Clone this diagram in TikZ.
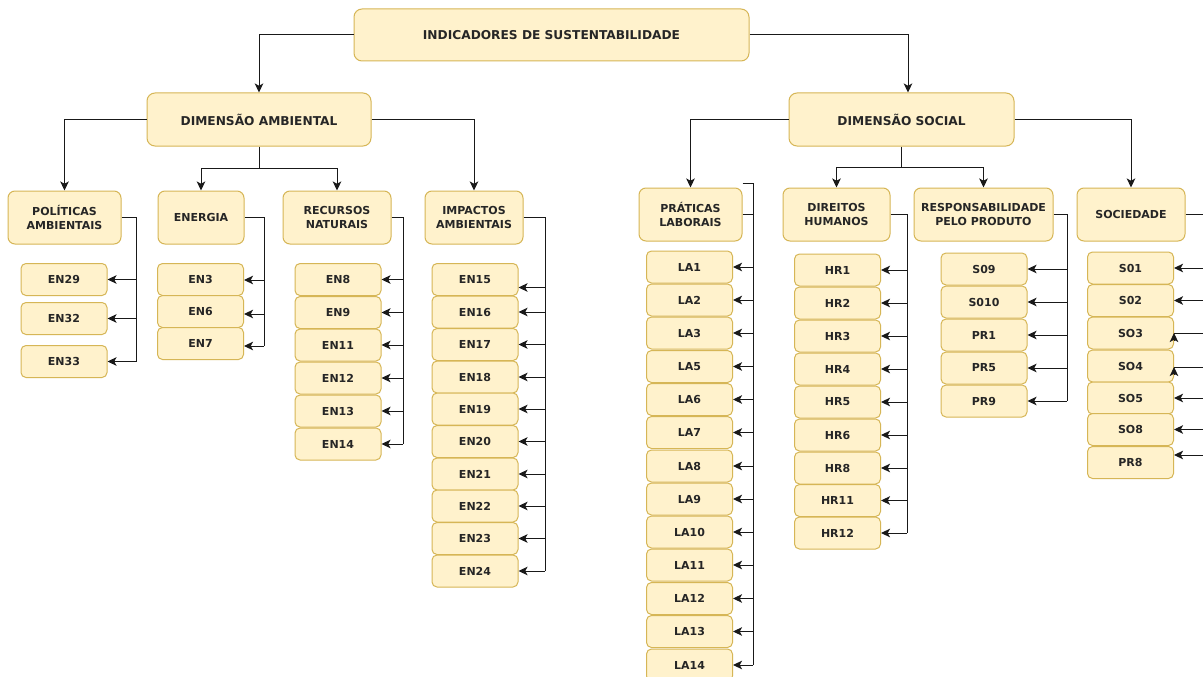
\documentclass[tikz,border=0pt]{standalone}
\usepackage{fontspec}
\setmainfont{DejaVu Sans}
\usetikzlibrary{arrows.meta,calc}
\definecolor{fillc}{HTML}{FFF2CC}
\definecolor{drawc}{HTML}{D6B656}
\definecolor{txtc}{HTML}{262626}
\begin{document}
\begin{tikzpicture}[x=1pt,y=-1pt,
  box/.style={draw=drawc, fill=fillc, line width=1pt, rounded corners=6pt,
    font=\bfseries\fontsize{11}{14}\selectfont, text=txtc, align=center, inner sep=0pt},
  big/.style={box, rounded corners=8pt, font=\bfseries\fontsize{12.2}{14}\selectfont},
  mid/.style={box, rounded corners=7pt, minimum height=53pt},
  leaf/.style={box, rounded corners=5pt, minimum width=86pt, minimum height=32pt},
  conn/.style={line width=1pt, black!90},
  arr/.style={conn, -{Stealth[length=9pt,width=8.5pt,inset=2.2pt]}}]
\useasboundingbox (0,0) rectangle (1203,677);
\fill[white] (0,0) rectangle (1203,677);
\clip (0,0) rectangle (1203,677);

% top levels
\node[big, minimum width=395pt, minimum height=52pt] (root) at (551.5,35) {INDICADORES DE SUSTENTABILIDADE};
\node[big, minimum width=224pt, minimum height=53pt] (dima) at (259,119.5) {DIMENSÃO AMBIENTAL};
\node[big, minimum width=225pt, minimum height=53pt] (dims) at (901.5,119.5) {DIMENSÃO SOCIAL};

\draw[arr] (root.west) -| (dima.north);
\draw[arr] (root.east) -| ($(dims.north)+(6.5,0)$);

% ambiental second level
\node[mid, minimum width=113pt] (pol) at (64.5,217.5) {POLÍTICAS\\AMBIENTAIS};
\node[mid, minimum width=86pt] (ene) at (201,217.5) {ENERGIA};
\node[mid, minimum width=108pt] (rec) at (337,217.5) {RECURSOS\\NATURAIS};
\node[mid, minimum width=98pt] (imp) at (474,217.5) {IMPACTOS\\AMBIENTAIS};

\coordinate (ja) at (259,168);
\draw[arr] (dima.west) -| (pol.north);
\draw[arr] (dima.east) -| (imp.north);
\draw[conn] (dima.south) -- (ja);
\draw[arr] (ja) -| (ene.north);
\draw[arr] (ja) -| (rec.north);

% social second level
\node[mid, minimum width=103pt] (prat) at (690.5,214.5) {PRÁTICAS\\LABORAIS};
\node[mid, minimum width=107pt] (dir) at (836.5,214.5) {DIREITOS\\HUMANOS};
\node[mid, minimum width=139pt] (resp) at (983.5,214.5) {RESPONSABILIDADE\\PELO PRODUTO};
\node[mid, minimum width=108pt] (soc) at (1131,214.5) {SOCIEDADE};

\coordinate (js) at (901.5,167);
\draw[arr] (dims.west) -| (prat.north);
\draw[arr] (dims.east) -| (soc.north);
\draw[conn] (dims.south) -- (js);
\draw[arr] (js) -| (dir.north);
\draw[arr] (js) -| (resp.north);

% Politicas
\coordinate (polh) at (136,217.5);
\foreach \t/\y in {EN29/279.5, EN32/318.5, EN33/361.5}{
  \node[leaf] (\t) at (64,\y) {\t};
  \draw[arr] (polh |- \t.east) -- (\t.east);
}
\draw[conn] (pol.east) -- (polh) -- (polh |- EN33.east);

% Energia
\coordinate (eneh) at (264,217.5);
\foreach \t/\y in {EN3/279.5, EN6/311.5, EN7/343.5}{
  \node[leaf] (\t) at (200.5,\y) {\t};
}
\draw[arr] (eneh |- 0,280) -- (EN3.east |- 0,280);
\draw[arr] (eneh |- 0,314) -- (EN6.east |- 0,314);
\draw[arr] (eneh |- 0,346) -- (EN7.east |- 0,346);
\draw[conn] (ene.east) -- (eneh) -- (eneh |- 0,346);

% Recursos
\coordinate (rech) at (403,217.5);
\foreach \t/\y in {EN8/279.5, EN9/312.5, EN11/345, EN12/378, EN13/411, EN14/444}{
  \node[leaf] (\t) at (338,\y) {\t};
  \draw[arr] (rech |- \t.east) -- (\t.east);
}
\draw[conn] (rec.east) -- (rech) -- (rech |- EN14.east);

% Impactos
\coordinate (imph) at (545,217.5);
\foreach \t/\y in {EN15/279.5, EN16/312, EN17/344.5, EN18/377, EN19/409, EN20/441.5, EN21/474, EN22/506, EN23/538.5, EN24/571}{
  \node[leaf] (\t) at (475,\y) {\t};
}
\draw[arr] (imph |- 0,287.5) -- (EN15.east |- 0,287.5);
\foreach \t in {EN16,EN17,EN18,EN19,EN20,EN21,EN22,EN23,EN24}{
  \draw[arr] (imph |- \t.east) -- (\t.east);
}
\draw[conn] (imp.east) -- (imph) -- (imph |- EN24.east);

% Praticas laborais
\coordinate (path) at (753,183);
\foreach \t/\y in {LA1/267, LA2/300, LA3/333, LA5/366.5, LA6/399.5, LA7/432.5, LA8/466, LA9/499, LA10/532, LA11/565, LA12/598.5, LA13/631.5, LA14/665}{
  \node[leaf] (\t) at (689.5,\y) {\t};
  \draw[arr] (path |- \t.east) -- (\t.east);
}
\draw[conn] (path -| prat.east) -- (path) -- (path |- LA14.east);
\draw[conn] (prat.east) -- (path |- prat.east);

% Direitos humanos
\coordinate (dirh) at (907,214.5);
\foreach \t/\y in {HR1/270, HR2/303, HR3/336, HR4/369, HR5/402, HR6/435, HR8/468, HR11/500.5, HR12/533}{
  \node[leaf] (\t) at (837.5,\y) {\t};
  \draw[arr] (dirh |- \t.east) -- (\t.east);
}
\draw[conn] (dir.east) -- (dirh) -- (dirh |- HR12.east);

% Responsabilidade
\coordinate (resph) at (1067,214.5);
\foreach \t/\y in {S09/269, S010/302, PR1/335, PR5/368, PR9/401}{
  \node[leaf] (\t) at (984,\y) {\t};
  \draw[arr] (resph |- \t.east) -- (\t.east);
}
\draw[conn] (resp.east) -- (resph) -- (resph |- PR9.east);

% Sociedade
\coordinate (soch) at (1212,214.5);
\foreach \t/\y in {S01/268, S02/300.5, SO3/333, SO4/366, SO5/398, SO8/429.5, PR8/462.5}{
  \node[leaf] (\t) at (1130.5,\y) {\t};
}
\foreach \t in {S01,S02,SO5,SO8}{
  \draw[arr] (soch |- \t.east) -- (\t.east);
}
\draw[arr] (soch |- 0,455) -- (PR8.east |- 0,455);
\draw[conn] (soch |- SO3.east) -- (SO3.east);
\draw[arr] ($(SO3.east)+(0,8)$) -- (SO3.east);
\draw[conn] (soch |- 0,367) -- (SO4.east |- 0,367);
\draw[arr] ($(SO4.east |- 0,367)+(0,8)$) -- (SO4.east |- 0,367);
\draw[conn] (soc.east) -- (soch) -- (soch |- 0,455);
\end{tikzpicture}
\end{document}
